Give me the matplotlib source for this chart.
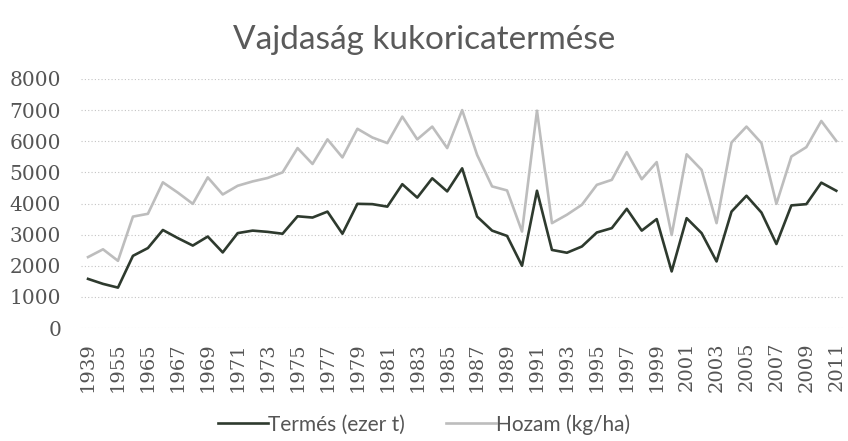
import matplotlib
matplotlib.use("Agg")
import matplotlib.pyplot as plt

# categories (two unlabeled early years between 1939 and 1965 are guessed)
years = [1939, 1950, 1955, 1960] + list(range(1965, 2012))

termes = [1580, 1420, 1300, 2320, 2570, 3150, 2890, 2650, 2940, 2430,
          3050, 3130, 3090, 3030, 3590, 3550, 3740, 3030, 3990, 3980,
          3900, 4620, 4190, 4810, 4390, 5130, 3580, 3130, 2960, 2000,
          4410, 2510, 2420, 2620, 3070, 3210, 3830, 3130, 3500, 1820,
          3530, 3050, 2140, 3740, 4250, 3710, 2700, 3940, 3980, 4670,
          4410]

hozam = [2280, 2530, 2160, 3580, 3670, 4680, 4350, 3990, 4840, 4290,
         4570, 4710, 4820, 5000, 5780, 5270, 6060, 5480, 6400, 6120,
         5940, 6790, 6060, 6470, 5780, 7000, 5560, 4550, 4420, 3100,
         6980, 3370, 3640, 3960, 4600, 4760, 5650, 4780, 5330, 2990,
         5580, 5080, 3370, 5960, 6470, 5940, 3990, 5510, 5810, 6650,
         6010]

yticks = list(range(0, 8001, 1000))

fig = plt.figure(figsize=(8.48, 4.41), dpi=100)
ax = fig.add_axes([0.095, 0.256, 0.90, 0.565])

x = list(range(len(years)))
ax.plot(x, termes, color="#2e3a2e", lw=1.9, label="Termés (ezer t)")
ax.plot(x, hozam, color="#bdbdbd", lw=1.9, label="Hozam (kg/ha)")

ax.set_xlim(-0.5, len(years) - 0.5)
ax.set_ylim(0, 8000)
ax.set_yticks(yticks)
ax.set_yticklabels([str(v) for v in yticks], family="DejaVu Serif",
                   fontsize=14.5, color="#555555")
ax.set_xticks(x[::2])
ax.set_xticklabels([str(y) for y in years[::2]], rotation=90,
                   family="DejaVu Serif", fontsize=14, color="#555555")
ax.tick_params(axis="y", length=0, pad=14)
ax.tick_params(axis="x", length=0, pad=10)
for s in ax.spines.values():
    s.set_visible(False)
ax.grid(axis="y", color="#c4c4c4", lw=0.8, linestyle=(0, (1, 2)))
ax.set_axisbelow(True)

fig.text(0.5, 0.91, "Vajdaság kukoricatermése", family="Lato", fontsize=24,
         color="#5a5a5a", ha="center", va="center")

leg = fig.legend(loc="lower center", ncol=2, frameon=False,
                 bbox_to_anchor=(0.5, -0.028), handlelength=2.4,
                 handletextpad=0.0, columnspacing=2.0,
                 prop={"family": "Lato", "size": 15})
for t in leg.get_texts():
    t.set_color("#555555")

fig.savefig("out.png", dpi=100)
